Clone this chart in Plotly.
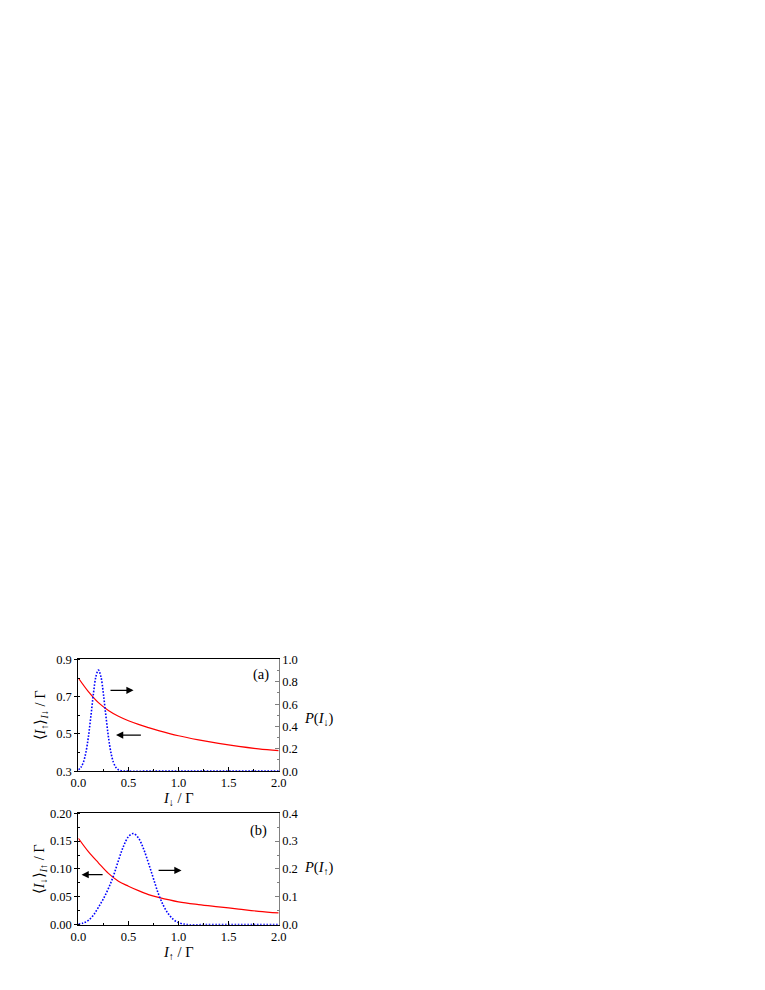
import plotly.graph_objects as go

# ---------------- data ----------------
# panel (a)
red_a_x = [0.0, 0.1, 0.2, 0.3, 0.4, 0.5, 0.6, 0.7, 0.8, 1.0, 1.2, 1.4, 1.6, 1.8, 2.0]
red_a_y = [0.800, 0.727, 0.668, 0.626, 0.595, 0.571, 0.551, 0.534, 0.518, 0.490, 0.468, 0.449, 0.433, 0.420, 0.410]

blue_a_x = [0.0, 0.025, 0.05, 0.075, 0.1, 0.125, 0.15, 0.175, 0.2, 0.225, 0.25, 0.275, 0.3,
            0.325, 0.35, 0.375, 0.4, 0.425, 0.45, 0.5, 0.75, 1.0, 1.25, 1.5, 1.75, 2.0]
blue_a_y = [0.012, 0.033, 0.079, 0.167, 0.307, 0.493, 0.691, 0.846, 0.905, 0.846, 0.691, 0.493, 0.307,
            0.167, 0.079, 0.033, 0.012, 0.004, 0.001, 0.0, 0.0, 0.0, 0.0, 0.0, 0.0, 0.0]

# panel (b)
red_b_x = [0.0, 0.1, 0.2, 0.3, 0.4, 0.5, 0.6, 0.7, 0.8, 1.0, 1.2, 1.4, 1.6, 1.8, 2.0]
red_b_y = [0.155, 0.131, 0.111, 0.092, 0.078, 0.069, 0.061, 0.054, 0.049, 0.041, 0.036, 0.032, 0.028, 0.024, 0.021]

blue_b_x = [0.0, 0.05, 0.1, 0.15, 0.2, 0.25, 0.3, 0.35, 0.4, 0.45, 0.5, 0.55, 0.6, 0.65, 0.7,
            0.75, 0.8, 0.85, 0.9, 0.95, 1.0, 1.05, 1.1, 1.25, 1.5, 1.75, 2.0]
blue_b_y = [0.002, 0.006, 0.015, 0.034, 0.062, 0.093, 0.130, 0.175, 0.230, 0.281, 0.316, 0.327, 0.311, 0.273, 0.221,
            0.165, 0.110, 0.068, 0.038, 0.018, 0.007, 0.002, 0.0, 0.0, 0.0, 0.0, 0.0]

x_ticks = [0.0, 0.5, 1.0, 1.5, 2.0]

W, H = 765, 990
OFF = 8  # default page body margin offsets the figure
def px(x):
    return (x - OFF) / W
def py(y):
    return 1 - (y - OFF) / H

FONT = "Liberation Serif"
RED = "#ff0000"
BLUE = "#0000ff"

fig = go.Figure()
fig.add_trace(go.Scatter(x=red_a_x, y=red_a_y, mode="lines", line=dict(color=RED, width=1.2, shape="spline"),
                         xaxis="x", yaxis="y", showlegend=False))
fig.add_trace(go.Scatter(x=blue_a_x, y=blue_a_y, mode="lines",
                         line=dict(color=BLUE, width=1.6, dash="1.6px,1.6px", shape="spline"),
                         xaxis="x", yaxis="y2", showlegend=False))
fig.add_trace(go.Scatter(x=red_b_x, y=red_b_y, mode="lines", line=dict(color=RED, width=1.2, shape="spline"),
                         xaxis="x3", yaxis="y3", showlegend=False))
fig.add_trace(go.Scatter(x=blue_b_x, y=blue_b_y, mode="lines",
                         line=dict(color=BLUE, width=1.6, dash="1.6px,1.6px", shape="spline"),
                         xaxis="x3", yaxis="y4", showlegend=False))

xdom = [px(71.7), px(276.3)]
ydom_a = [py(775.0), py(661.7)]
ydom_b = [py(930.7), py(817.7)]

tickfont = dict(family=FONT, size=12.5, color="black")

def xaxis_cfg(anchor):
    return dict(domain=xdom, anchor=anchor, range=[0, 2], tickvals=x_ticks, tickformat=".1f",
                showline=True, linecolor="black", linewidth=1, mirror=True,
                ticks="inside", ticklen=4, tickcolor="black",
                minor=dict(dtick=0.25, tick0=0, ticks="inside", ticklen=2, tickcolor="black"),
                showgrid=False, zeroline=False, tickfont=tickfont)

def yleft_cfg(dom, anchor, rng, dtick, fmt, mdtick):
    return dict(domain=dom, anchor=anchor, range=rng, dtick=dtick, tick0=rng[0], tickformat=fmt,
                showline=True, linecolor="black", linewidth=1,
                ticks="outside", ticklen=3, tickcolor="black",
                minor=dict(dtick=mdtick, tick0=rng[0], ticks="inside", ticklen=2, tickcolor="black"),
                showgrid=False, zeroline=False, tickfont=tickfont)

def yright_cfg(overlay, anchor, rng, dtick, mdtick):
    return dict(overlaying=overlay, anchor=anchor, side="right", range=rng, dtick=dtick, tick0=0,
                tickformat=".1f", showline=True, linecolor="#808080", linewidth=1,
                ticks="inside", ticklen=4, tickcolor="#808080",
                minor=dict(dtick=mdtick, tick0=0, ticks="inside", ticklen=2, tickcolor="#808080"),
                showgrid=False, zeroline=False, tickfont=tickfont)

fig.update_layout(
    width=W, height=H,
    margin=dict(l=0, r=0, t=0, b=0),
    paper_bgcolor="white", plot_bgcolor="white",
    xaxis=xaxis_cfg("y"),
    yaxis=yleft_cfg(ydom_a, "x", [0.3, 0.9], 0.2, ".1f", 0.1),
    yaxis2=yright_cfg("y", "x", [0, 1.0], 0.2, 0.1),
    xaxis3=xaxis_cfg("y3"),
    yaxis3=yleft_cfg(ydom_b, "x3", [0.0, 0.2], 0.05, ".2f", 0.025),
    yaxis4=yright_cfg("y3", "x3", [0, 0.4], 0.1, 0.05),
)

ann = []
tf = dict(family=FONT, size=14.5, color="black")
# x-axis titles
ann.append(dict(text="<i>I</i><sub>↓</sub> / Γ", x=px(174), y=py(803), xref="paper", yref="paper",
                showarrow=False, font=tf, xanchor="center", yanchor="middle"))
ann.append(dict(text="<i>I</i><sub>↑</sub> / Γ", x=px(174), y=py(959), xref="paper", yref="paper",
                showarrow=False, font=tf, xanchor="center", yanchor="middle"))
# left y titles
ann.append(dict(text="⟨<i>I</i><sub>↑</sub>⟩<sub><i>I</i>↓</sub> / Γ", x=px(33), y=py(718), xref="paper", yref="paper",
                showarrow=False, font=tf, textangle=-90, xanchor="center", yanchor="middle"))
ann.append(dict(text="⟨<i>I</i><sub>↓</sub>⟩<sub><i>I</i>↑</sub> / Γ", x=px(32), y=py(874), xref="paper", yref="paper",
                showarrow=False, font=tf, textangle=-90, xanchor="center", yanchor="middle"))
# right y titles
ann.append(dict(text="<i>P</i>(<i>I</i><sub>↓</sub>)", x=px(300), y=py(722), xref="paper", yref="paper",
                showarrow=False, font=tf, xanchor="left", yanchor="middle"))
ann.append(dict(text="<i>P</i>(<i>I</i><sub>↑</sub>)", x=px(300), y=py(873), xref="paper", yref="paper",
                showarrow=False, font=tf, xanchor="left", yanchor="middle"))
# panel labels
ann.append(dict(text="(a)", x=px(258), y=py(677), xref="paper", yref="paper",
                showarrow=False, font=tf, xanchor="center", yanchor="middle"))
ann.append(dict(text="(b)", x=px(256), y=py(835), xref="paper", yref="paper",
                showarrow=False, font=tf, xanchor="center", yanchor="middle"))
# arrows
arrow = dict(showarrow=True, arrowhead=2, arrowsize=1.2, arrowwidth=1.2, arrowcolor="black", text="")
ann.append(dict(x=0.551, y=0.734, ax=0.306, ay=0.734, xref="x", yref="y", axref="x", ayref="y", **arrow))
ann.append(dict(x=0.376, y=0.494, ax=0.639, ay=0.494, xref="x", yref="y", axref="x", ayref="y", **arrow))
ann.append(dict(x=0.032, y=0.0897, ax=0.257, ay=0.0897, xref="x3", yref="y3", axref="x3", ayref="y3", **arrow))
ann.append(dict(x=1.03, y=0.0974, ax=0.786, ay=0.0974, xref="x3", yref="y3", axref="x3", ayref="y3", **arrow))

fig.update_layout(annotations=ann)
fig.write_html("out.html")
